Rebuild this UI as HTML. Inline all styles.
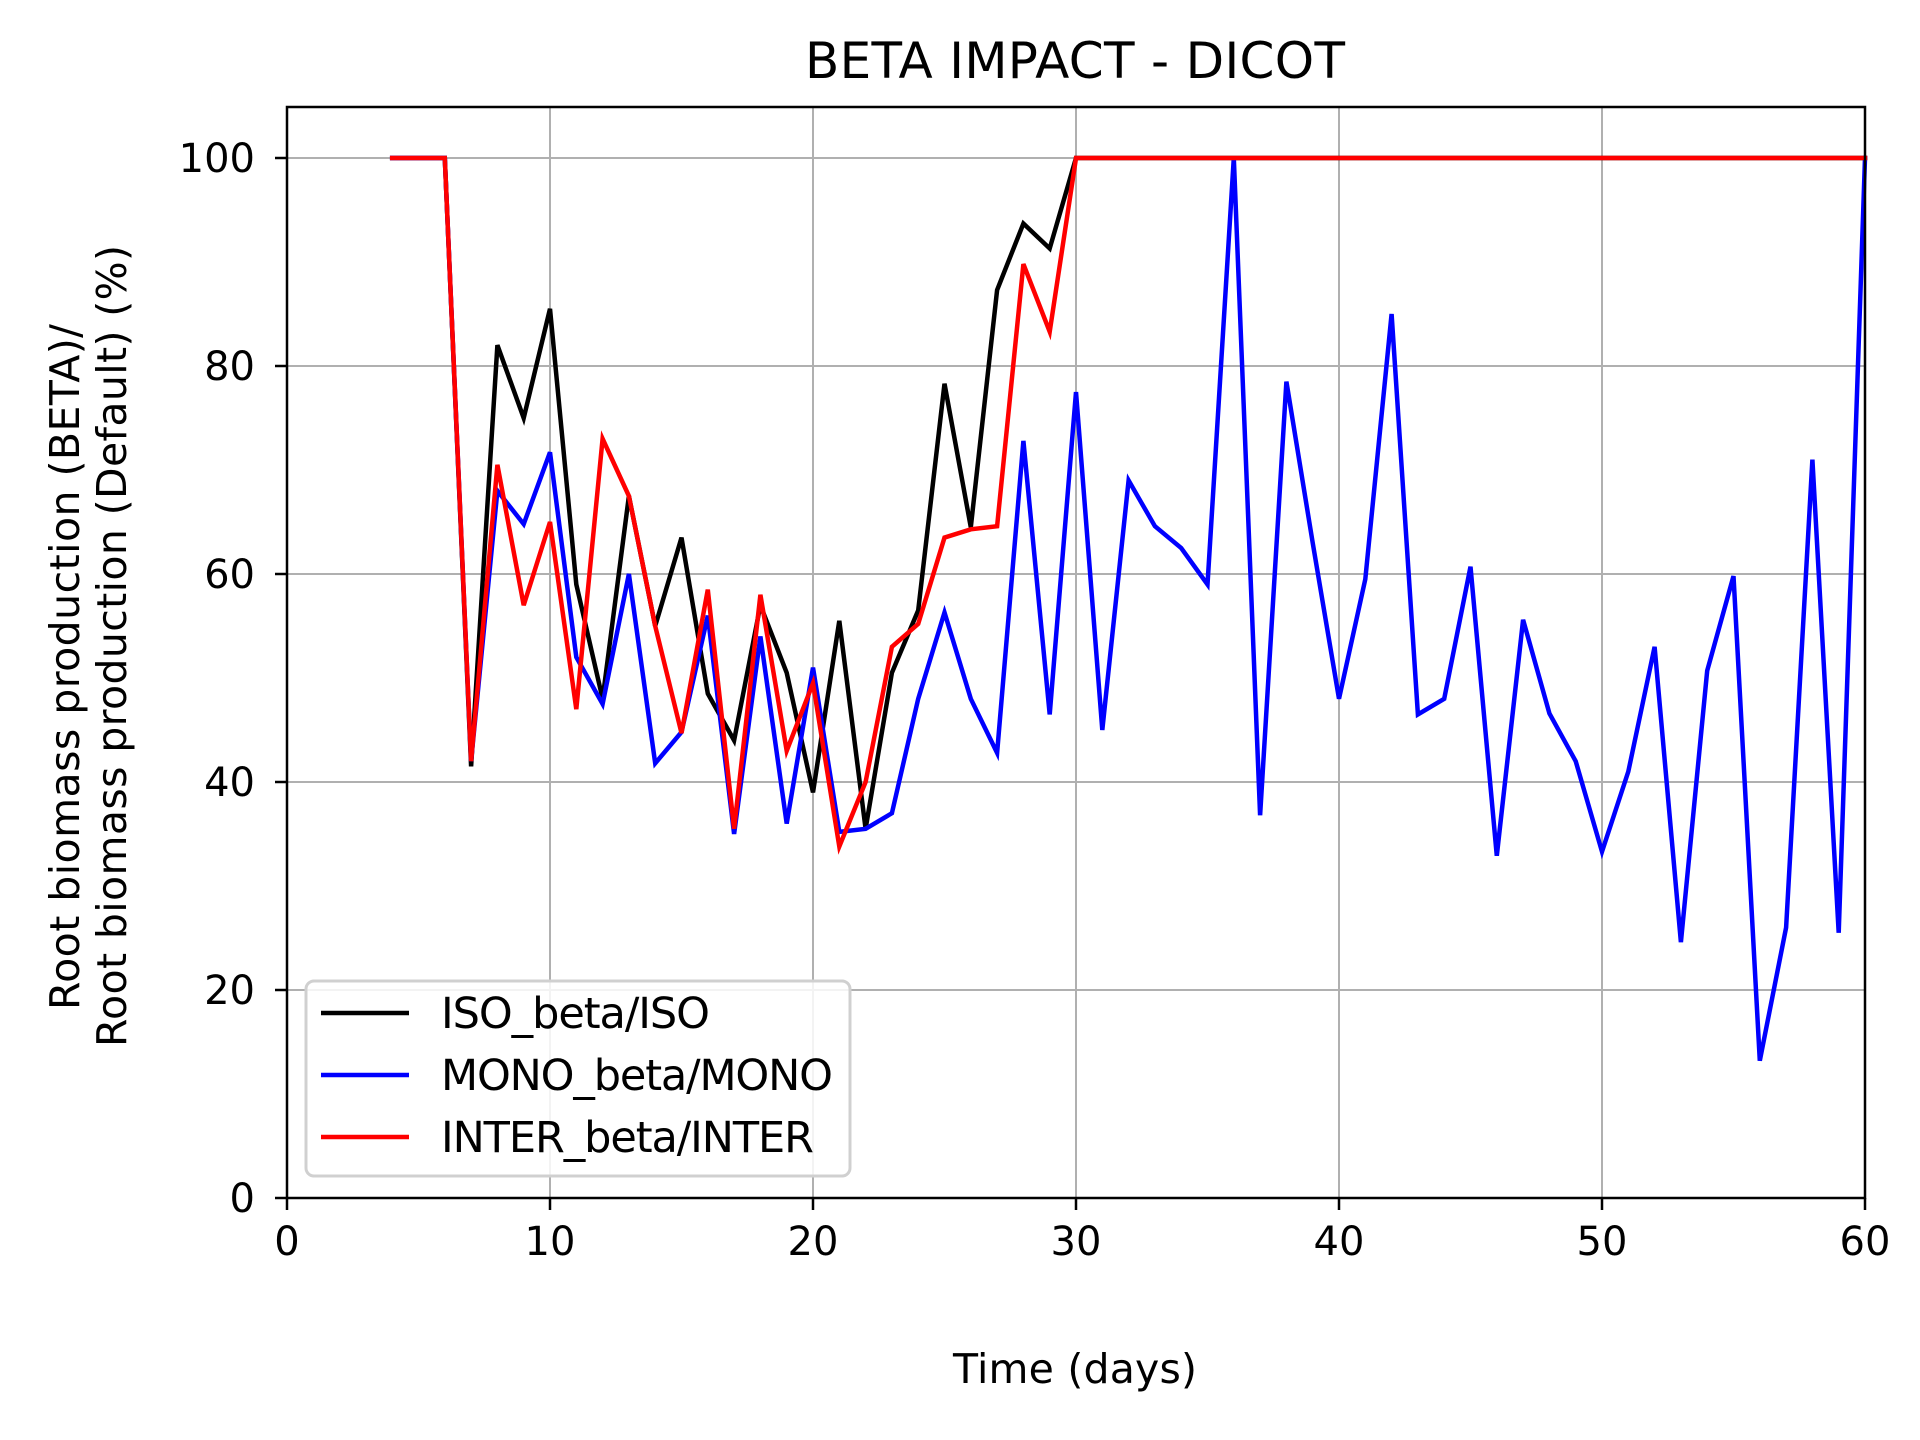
<!DOCTYPE html>
<html><head><meta charset="utf-8"><style>
html,body{margin:0;padding:0;background:#fff;}
svg{display:block;font-family:"DejaVu Sans","Liberation Sans",sans-serif;}
</style></head><body>
<svg id="chart" width="1920" height="1440" viewBox="0 0 1920 1440" xmlns="http://www.w3.org/2000/svg">
<rect width="1920" height="1440" fill="#fff"/>
<g id="grid"></g>
<g id="series"></g>
<g id="axes"></g>
<text x="1075" y="78" font-size="50" text-anchor="middle" textLength="540">BETA IMPACT - DICOT</text>
<text x="1075" y="1383" font-size="41" text-anchor="middle" textLength="244">Time (days)</text>
<text transform="translate(79,667) rotate(-90)" font-size="41" text-anchor="middle" textLength="686">Root biomass production (BETA)/</text>
<text transform="translate(126,646) rotate(-90)" font-size="41" text-anchor="middle" textLength="802">Root biomass production (Default) (%)</text>
<g id="legend">
<rect x="306" y="981" width="544" height="195" rx="8" fill="#fff" fill-opacity="0.85" stroke="#d0d0d0" stroke-width="3"/>
<line x1="321" y1="1013" x2="409" y2="1013" stroke="#000" stroke-width="4.5"/>
<text x="441" y="1028" font-size="43" textLength="269">ISO_beta/ISO</text>
<line x1="321" y1="1075" x2="409" y2="1075" stroke="#00f" stroke-width="4.5"/>
<text x="441" y="1090" font-size="43" textLength="392">MONO_beta/MONO</text>
<line x1="321" y1="1137" x2="409" y2="1137" stroke="#f00" stroke-width="4.5"/>
<text x="441" y="1152" font-size="43" textLength="373">INTER_beta/INTER</text>
</g>
</svg>
<script>
const days = [4,5,6,7,8,9,10,11,12,13,14,15,16,17,18,19,20,21,22,23,24,25,26,27,28,29,30,31,32,33,34,35,36,37,38,39,40,41,42,43,44,45,46,47,48,49,50,51,52,53,54,55,56,57,58,59,60];
const isoValues = [100,100,100,41.5,82,75,85.5,59,48,67.5,55,63.5,48.5,44,57,50.5,39,55.5,35.5,50.5,56.5,78.3,64.5,87.3,93.7,91.3,100,100,100,100,100,100,100,100,100,100,100,100,100,100,100,100,100,100,100,100,100,100,100,100,100,100,100,100,100,100,100];
const monoValues = [100,100,100,42,68,64.8,71.7,52,47.5,60,41.8,44.8,56,35,54,36,51,35.2,35.5,37,48,56.3,48,42.8,72.8,46.5,77.5,45,69,64.6,62.5,59,100,36.8,78.5,63,48,59.5,85,46.5,48,60.7,32.9,55.6,46.6,42,33.3,41,53,24.6,50.7,59.8,13.2,26,71,25.5,100];
const interValues = [100,100,100,42,70.5,57,65,47,73,67.5,55,44.7,58.5,35.5,58,43,49.5,33.8,40,53,55.2,63.5,64.3,64.6,89.8,83.3,100,100,100,100,100,100,100,100,100,100,100,100,100,100,100,100,100,100,100,100,100,100,100,100,100,100,100,100,100,100,100];
const xTicks = [0,10,20,30,40,50,60];
const yTicks = [0,20,40,60,80,100];

const NS = "http://www.w3.org/2000/svg";
const L = 287, R = 1865, T = 107, B = 1198;
const xScale = v => L + (v - 0) / 60 * (R - L);
const yScale = v => 1198 - v / 100 * 1040;
function mk(tag, attrs, parent){const e=document.createElementNS(NS,tag);for(const k in attrs)e.setAttribute(k,attrs[k]);parent.appendChild(e);return e;}
const grid = document.getElementById('grid'), axes = document.getElementById('axes'), series = document.getElementById('series');
xTicks.forEach(t=>{
  const x = xScale(t);
  const g = mk('line',{x1:x,y1:T,x2:x,y2:B,stroke:'#b0b0b0','stroke-width':2},grid);
  
  
  const tk = mk('line',{x1:x,y1:B,x2:x,y2:B+12,stroke:'#000','stroke-width':2.5},axes);
  
  
  const tx = mk('text',{x:x,y:B+57,'font-size':40,'text-anchor':'middle'},axes);
  tx.textContent = t;
  
  
});
yTicks.forEach(t=>{
  const y = yScale(t);
  const g = mk('line',{x1:L,y1:y,x2:R,y2:y,stroke:'#b0b0b0','stroke-width':2},grid);
  
  
  const tk = mk('line',{x1:L-12,y1:y,x2:L,y2:y,stroke:'#000','stroke-width':2.5},axes);
  
  
  const tx = mk('text',{x:L-32,y:y+14,'font-size':40,'text-anchor':'end'},axes);
  tx.textContent = t;
  
  
});
const frame = mk('rect',{x:L,y:T,width:R-L,height:B-T,fill:'none',stroke:'#000','stroke-width':2.5},axes);


function drawLine(vals,color,name){
  const pts = days.map((d,i)=>xScale(d).toFixed(1)+','+yScale(vals[i]).toFixed(1)).join(' ');
  const p = mk('polyline',{points:pts,fill:'none',stroke:color,'stroke-width':4.5,'stroke-linejoin':'miter','stroke-linecap':'square'},series);
  
  
}
drawLine(isoValues,'#000','series-iso');
drawLine(monoValues,'#00f','series-mono');
drawLine(interValues,'#f00','series-inter');
</script>
</body></html>
